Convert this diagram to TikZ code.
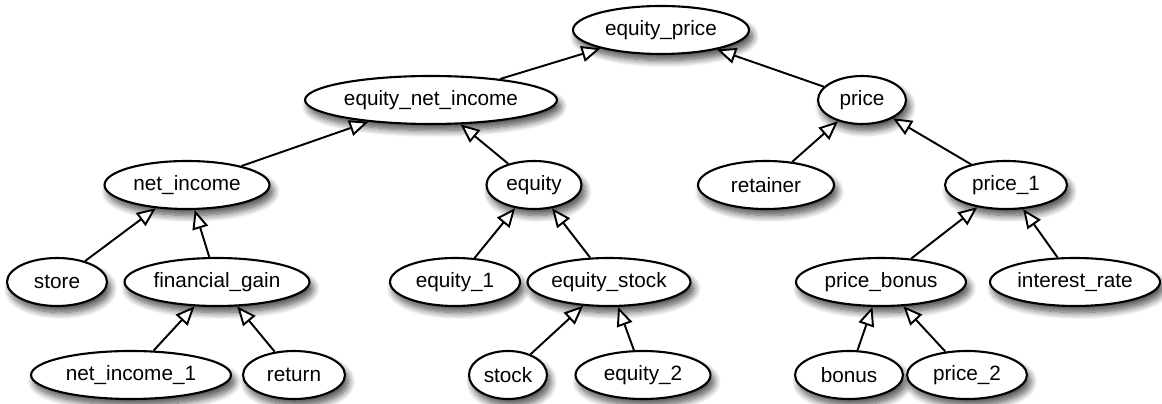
\documentclass[tikz,border=0pt]{standalone}
\usepackage{fontspec}
\setmainfont{Liberation Sans}
\usepackage{tikz}
\usetikzlibrary{shapes.geometric, arrows.meta, shadows.blur}
\tikzstyle{term} = [ellipse, draw=black, line width=1.2pt, fill=white, inner sep=0pt,
                    minimum height=0.96cm, text centered,
                    font=\fontsize{11.8}{14}\selectfont,
                    blur shadow={shadow xshift=0.07cm, shadow yshift=-0.13cm, shadow blur steps=10,
                                 shadow blur radius=0.14cm, shadow opacity=70}]
\tikzstyle{arrow} = [-{Triangle[open, length=0.38cm, width=0.32cm, fill=white]}, line width=1.1pt]

\begin{document}
\begin{tikzpicture}[x=0.02cm, y=-0.02cm]
    \useasboundingbox (0,0) rectangle (1162,404);
    % Terms
    \node[term, minimum width=3.52cm] (eqprice) at (661,30) {equity\_price};
    \node[term, minimum width=5.04cm] (eqnetincome) at (431,100) {equity\_net\_income};
    \node[term, minimum width=1.76cm] (price) at (862,100) {price};
    \node[term, minimum width=3.3cm] (netincome) at (187,185) {net\_income};
    \node[term, minimum width=1.9cm] (equity) at (534,185) {equity};
    \node[term, minimum width=2.72cm] (retainer) at (766,185) {retainer};
    \node[term, minimum width=2.44cm] (priceone) at (1006,185) {price\_1};
    \node[term, minimum width=2.0cm] (store) at (57,282) {store};
    \node[term, minimum width=3.7cm] (fingain) at (217,282) {financial\_gain};
    \node[term, minimum width=2.6cm] (equityone) at (455,282) {equity\_1};
    \node[term, minimum width=3.14cm] (eqstock) at (609,282) {equity\_stock};
    \node[term, minimum width=3.4cm] (pricebonus) at (881,282) {price\_bonus};
    \node[term, minimum width=3.4cm] (intrate) at (1075,282) {interest\_rate};
    \node[term, minimum width=4.0cm] (netincomeone) at (131,375) {net\_income\_1};
    \node[term, minimum width=2.04cm] (return) at (294,375) {return};
    \node[term, minimum width=1.56cm] (stock) at (508,375) {stock};
    \node[term, minimum width=2.7cm] (equitytwo) at (643,375) {equity\_2};
    \node[term, minimum width=2.16cm] (bonus) at (849,375) {bonus};
    \node[term, minimum width=2.4cm] (pricetwo) at (967,375) {price\_2};

    % Derivations
    \draw[arrow] (eqnetincome) -- (eqprice);
    \draw[arrow] (price) -- (eqprice);
    \draw[arrow] (netincome) -- (eqnetincome);
    \draw[arrow] (equity) -- (eqnetincome);
    \draw[arrow] (retainer) -- (price);
    \draw[arrow] (priceone) -- (price);
    \draw[arrow] (store) -- (netincome);
    \draw[arrow] (fingain) -- (netincome);
    \draw[arrow] (equityone) -- (equity);
    \draw[arrow] (eqstock) -- (equity);
    \draw[arrow] (pricebonus) -- (priceone);
    \draw[arrow] (intrate) -- (priceone);
    \draw[arrow] (netincomeone) -- (fingain);
    \draw[arrow] (return) -- (fingain);
    \draw[arrow] (stock) -- (eqstock);
    \draw[arrow] (equitytwo) -- (eqstock);
    \draw[arrow] (bonus) -- (pricebonus);
    \draw[arrow] (pricetwo) -- (pricebonus);
\end{tikzpicture}
\end{document}
